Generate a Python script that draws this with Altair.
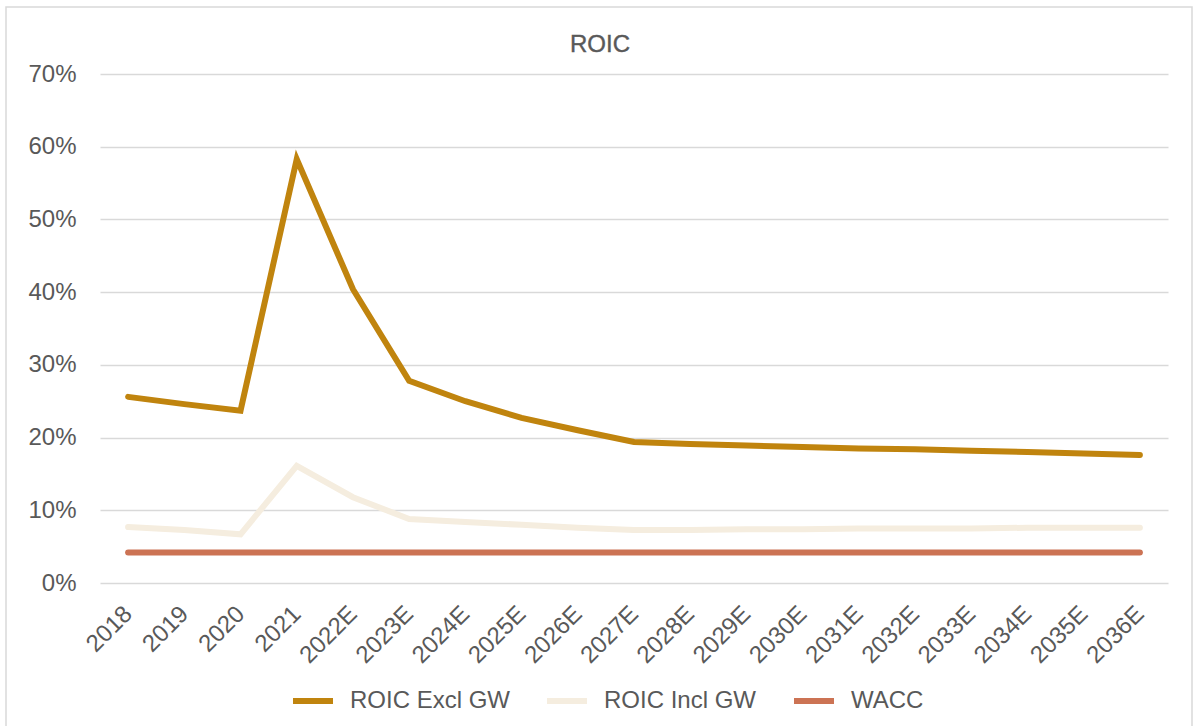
import altair as alt
import pandas as pd

# Fiscal years (actuals and estimates)
years = ["2018", "2019", "2020", "2021", "2022E", "2023E", "2024E", "2025E",
         "2026E", "2027E", "2028E", "2029E", "2030E", "2031E", "2032E",
         "2033E", "2034E", "2035E", "2036E"]

# Return on invested capital, in percent
roic_excl_gw = [25.6, 24.6, 23.7, 58.3, 40.4, 27.8, 25.0, 22.7, 21.0, 19.4,
                19.1, 18.9, 18.7, 18.5, 18.4, 18.2, 18.0, 17.8, 17.6]
roic_incl_gw = [7.7, 7.3, 6.7, 16.1, 11.8, 8.8, 8.4, 8.0, 7.6, 7.3,
                7.3, 7.4, 7.4, 7.5, 7.5, 7.5, 7.6, 7.6, 7.6]
wacc = [4.2] * len(years)

series_names = ["ROIC Excl GW", "ROIC Incl GW", "WACC"]
series_colors = ["#C0840E", "#F5EDDF", "#CC7354"]
chart_title = "ROIC"

rows = []
for name, vals in zip(series_names, [roic_excl_gw, roic_incl_gw, wacc]):
    for yr, v in zip(years, vals):
        rows.append({"Year": yr, "Series": name, "Value": v / 100})
df = pd.DataFrame(rows)

FONT = "Liberation Sans"
GREY = "#595959"
FS = 24

lines = alt.Chart(df).mark_line(strokeWidth=6, strokeCap="round", strokeJoin="miter").encode(
    x=alt.X("Year:N", sort=years, title=None,
            axis=alt.Axis(labelAngle=-45, labelFontSize=FS, labelColor=GREY,
                          labelFont=FONT, ticks=False, domain=False,
                          labelAlign="right", labelBaseline="middle",
                          labelPadding=27, grid=False)),
    y=alt.Y("Value:Q", title=None,
            scale=alt.Scale(domain=[0, 0.7], nice=False),
            axis=alt.Axis(format=".0%", values=[0, 0.1, 0.2, 0.3, 0.4, 0.5, 0.6, 0.7],
                          labelFontSize=FS, labelColor=GREY, labelFont=FONT,
                          ticks=False, domain=False, labelPadding=24,
                          gridColor="#D9D9D9", gridWidth=1.5)),
    color=alt.Color("Series:N",
                    scale=alt.Scale(domain=series_names, range=series_colors),
                    legend=alt.Legend(title=None, orient="none", direction="horizontal",
                                      legendX=190, legendY=604,
                                      symbolType="stroke", symbolSize=1600,
                                      symbolStrokeWidth=6, labelFontSize=FS,
                                      labelColor=GREY, labelFont=FONT,
                                      labelOffset=14, columnPadding=25,
                                      padding=0)),
    order=alt.Order("Series:N"),
)

# Chart title, centred over the whole figure
title = alt.Chart(pd.DataFrame({"t": [chart_title]})).mark_text(
    font=FONT, fontSize=FS, color=GREY, align="center", baseline="middle",
    stroke=GREY, strokeWidth=0.4
).encode(text="t:N", x=alt.value(500), y=alt.value(-29))

# Outer chart frame
frame = alt.Chart(pd.DataFrame({"f": [0]})).mark_rect(
    fill=None, stroke="#D9D9D9", strokeWidth=1.5
).encode(
    x=alt.value(-94), x2=alt.value(1092),
    y=alt.value(-67), y2=alt.value(670),
)

chart = alt.layer(frame, lines, title).properties(
    width=1068,
    height=509,
    autosize=alt.AutoSizeParams(type="none"),
    padding={"left": 100, "top": 74, "right": 26, "bottom": 143},
).configure(background="white").configure_view(stroke="transparent", strokeWidth=0)

chart.save("out.html", embed_options={"renderer": "svg", "actions": False})
